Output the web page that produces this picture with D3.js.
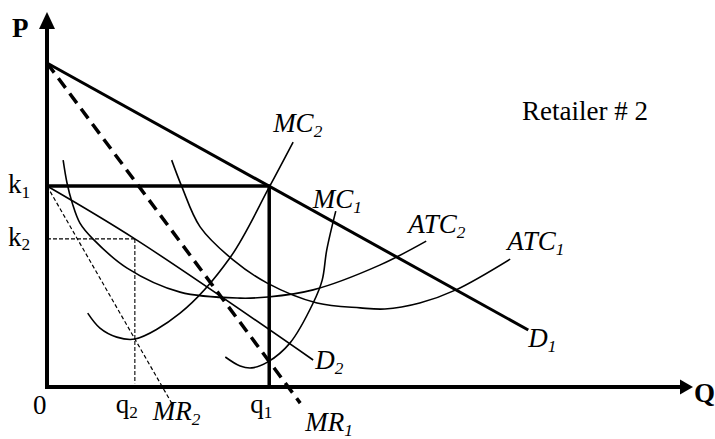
<!DOCTYPE html>
<html>
<head>
<meta charset="utf-8">
<script src="https://cdn.jsdelivr.net/npm/d3@7"></script>
<style>
  html, body { margin: 0; padding: 0; background: #fff; }
  svg { display: block; }
  text { font-family: "Liberation Serif", "Times New Roman", serif; fill: #000; }
</style>
</head>
<body>
<svg id="chart" width="715" height="439"></svg>
<script>
// Quantity (Q) and price (P) in arbitrary units; axes run 0..100.
const axisMax = { q: 100, p: 100 };

// Output levels and prices marked on the axes
const quantityTicks = [["q", "2", 13.6], ["q", "1", 34.4]];
const priceTicks = [["k", "1", 53.6], ["k", "2", 39.5]];

// Demand and marginal revenue schedules [Q, P]
const demand1 = [[0, 86.4], [74.5, 15.2]];
const marginalRevenue1 = [[0, 86.4], [39.2, -4.3]];
const demand2 = [[0, 53.6], [13.6, 39.5], [41.2, 7.2]];
const marginalRevenue2 = [[0, 53.6], [19.3, -4.3]];

// Cost curves [Q, P]
const marginalCost2 = [[6.3, 19.7], [8.2, 15.7], [10.8, 13.3], [13.6, 12.8], [20.6, 19.7],
  [28.3, 34.4], [34.4, 53.3], [38.1, 65.3]];
const marginalCost1 = [[27.6, 8.0], [29.9, 5.6], [31.7, 5.1], [34.2, 6.7], [37.6, 11.7],
  [41.2, 22.4], [42.6, 28.5], [43.3, 36.5], [44.7, 46.9]];
const averageCost2 = [[2.5, 60.5], [3.1, 54.4], [3.9, 49.1], [5.1, 43.7], [7.1, 39.5],
  [12.4, 31.7], [20.6, 25.3], [29.9, 23.7], [34.2, 24.0], [41.2, 25.9], [51.5, 32.5], [58.7, 38.9]];
const averageCost1 = [[19.3, 60.5], [20.9, 53.3], [23.7, 42.7], [28.8, 33.9], [34.1, 27.7],
  [41.8, 22.4], [48.5, 21.1], [52.3, 20.8], [57.7, 22.4], [63.3, 25.9], [71.7, 34.1]];

const svg = d3.select("#chart");
const x = d3.scaleLinear().domain([0, axisMax.q]).range([47, 693]);
const y = d3.scaleLinear().domain([0, axisMax.p]).range([387, 12]);

const straight = d3.line().x(d => x(d[0])).y(d => y(d[1]));
const smooth = d3.line().x(d => x(d[0])).y(d => y(d[1])).curve(d3.curveCatmullRom.alpha(0.5));

function path(data, gen, width, dash) {
  const p = svg.append("path").datum(data).attr("d", gen)
    .attr("fill", "none").attr("stroke", "#000").attr("stroke-width", width)
    .attr("stroke-linecap", "butt").attr("stroke-linejoin", "round");
  if (dash) p.attr("stroke-dasharray", dash);
  return p;
}

// Label with a subscript
function label(px, py, main, sub, opts) {
  const o = Object.assign({ size: 27, italic: false, bold: false, anchor: "start" }, opts);
  const t = svg.append("text").attr("x", px).attr("y", py)
    .attr("font-size", o.size).attr("text-anchor", o.anchor)
    .attr("font-style", o.italic ? "italic" : "normal")
    .attr("font-weight", o.bold ? "bold" : "normal");
  t.append("tspan").text(main);
  if (sub) {
    t.append("tspan").attr("font-size", o.size * 0.64).attr("dy", o.size * 0.17).text(sub);
  }
  return t;
}

// Guide lines from q2 / k2 to the D2 point
const q2 = quantityTicks[0][2], k2 = priceTicks[1][2];
path([[0, k2], [q2, k2]], straight, 1.1, "4,2");
path([[q2, k2], [q2, 1]], straight, 1.1, "4,2");

// Cost curves
path(averageCost2, smooth, 1.6);
path(averageCost1, smooth, 1.6);
path(marginalCost2, smooth, 1.6);
path(marginalCost1, smooth, 1.6);

// Retailer 2 demand and marginal revenue
path(demand2, smooth, 1.6);
path(marginalRevenue2, straight, 1.2, "4,2.5");

// Retailer 1 demand and marginal revenue
path(demand1, straight, 3);
path(marginalRevenue1, straight, 3.5, "12,7");

// Price k1 / quantity q1 box
const q1 = quantityTicks[1][2], k1 = priceTicks[0][2];
path([[0, k1], [q1, k1], [q1, 0]], straight, 3.5).attr("stroke-linejoin", "miter");

// Axes with arrowheads
svg.append("line").attr("x1", x(0)).attr("x2", x(0)).attr("y1", y(0) + 2).attr("y2", y(axisMax.p) + 14)
  .attr("stroke", "#000").attr("stroke-width", 4);
svg.append("line").attr("x1", x(0) - 2).attr("x2", x(axisMax.q) - 11).attr("y1", y(0)).attr("y2", y(0))
  .attr("stroke", "#000").attr("stroke-width", 4);
svg.append("path")
  .attr("d", `M${x(0)},${y(axisMax.p)} L${x(0) - 8},${y(axisMax.p) + 17} L${x(0) + 8},${y(axisMax.p) + 17} Z`)
  .attr("fill", "#000");
svg.append("path")
  .attr("d", `M${x(axisMax.q)},${y(0)} L${x(axisMax.q) - 13},${y(0) - 7.5} L${x(axisMax.q) - 13},${y(0) + 7.5} Z`)
  .attr("fill", "#000");

// Axis titles
label(x(0) - 35, y(axisMax.p) + 25, "P", null, { bold: true });
label(x(axisMax.q) + 1, y(0) + 15, "Q", null, { bold: true });

// Axis marks
label(x(0) - 14, y(0) + 27, "0", null, {});
quantityTicks.forEach(([m, s, v]) => label(x(v) - 19, y(0) + 26, m, s, {}));
priceTicks.forEach(([m, s, v]) => label(x(0) - 39, y(v) + 7, m, s, {}));

// Curve names placed beside the ends of their curves
const last = a => a[a.length - 1];
function endLabel(series, main, sub, dx, dy) {
  const e = last(series);
  label(x(e[0]) + dx, y(e[1]) + dy, main, sub, { italic: true });
}
endLabel(marginalCost2, "MC", "2", -20, -10);
endLabel(marginalCost1, "MC", "1", -23, -3);
endLabel(averageCost2, "ATC", "2", -18, -8);
endLabel(averageCost1, "ATC", "1", -3, -9);
endLabel(demand1, "D", "1", 0, 17);
endLabel(demand2, "D", "2", 2, 9);
endLabel(marginalRevenue2, "MR", "2", -19, 17);
endLabel(marginalRevenue1, "MR", "1", 5, 28);

// Title
label(522, 120, "Retailer # 2", null, {});
</script>
</body>
</html>
